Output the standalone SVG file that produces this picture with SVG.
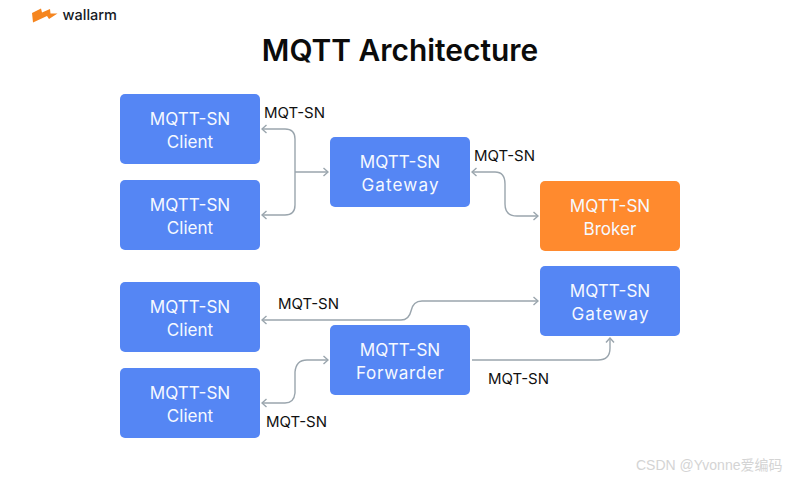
<svg xmlns="http://www.w3.org/2000/svg" width="800" height="480" viewBox="0 0 800 480">
<style>
text{font-family:"Inter","Liberation Sans",sans-serif}
.b{fill:#5586f4}
.o{fill:#ff8a2e}
.n{fill:#f6f9ff;font-size:17.100px;text-anchor:middle}
.l{fill:#111;font-size:15px}
.c{fill:none;stroke:#9aa5ad;stroke-width:1.4}
</style>
<defs>
<marker id="a" viewBox="0 0 10 10" refX="9" refY="5" markerWidth="10" markerHeight="10" markerUnits="userSpaceOnUse" orient="auto-start-reverse"><path d="M4.500 1 9 5 4.500 9" fill="none" stroke="#9aa5ad" stroke-width="1.4"/></marker>
</defs>
<rect width="800" height="480" fill="#fff"/>
<g id="logo">
<path d="M32 13 41 8.500 42 12.500 50 9 50.500 13.500 57.500 13.500 49 19 47 16 33 22.500Z" fill="#f5851f"/>
<text x="62.500" y="20" font-size="14.500" font-weight="500" fill="#15191f">wallarm</text>
</g>
<text id="title" x="400" y="61" font-size="29.900" font-weight="600" text-anchor="middle" fill="#0b0b0b">MQTT Architecture</text>
<g id="connectors">
<path class="c" marker-start="url(#a)" marker-end="url(#a)" d="M262 129H285Q295 129 295 139V205Q295 215 285 215H262"/>
<path class="c" marker-end="url(#a)" d="M295 172H328"/>
<path class="c" marker-start="url(#a)" marker-end="url(#a)" d="M472 172H495Q505 172 505 184V204Q505 216 517 216H538"/>
<path class="c" marker-start="url(#a)" marker-end="url(#a)" d="M262 320H401Q409 320 411 311Q413 301 422 301H538"/>
<path class="c" marker-start="url(#a)" marker-end="url(#a)" d="M262 403H285Q294 403 295 393V372Q296 360 307 360H328"/>
<path class="c" marker-end="url(#a)" d="M472 360H598Q610 360 610 348V338"/>
</g>
<g id="client1"><rect class="b" x="120" y="94" width="140" height="70" rx="5"/><text class="n" x="190" y="125">MQTT-SN</text><text class="n" x="190" y="148">Client</text></g>
<g id="client2"><rect class="b" x="120" y="180" width="140" height="70" rx="5"/><text class="n" x="190" y="211">MQTT-SN</text><text class="n" x="190" y="234">Client</text></g>
<g id="gateway1"><rect class="b" x="330" y="137" width="140" height="70" rx="5"/><text class="n" x="400" y="168">MQTT-SN</text><text class="n" x="400" y="191" textLength="77">Gateway</text></g>
<g id="broker"><rect class="o" x="540" y="181" width="140" height="70" rx="5"/><text class="n" x="610" y="212">MQTT-SN</text><text class="n" x="610" y="235">Broker</text></g>
<g id="gateway2"><rect class="b" x="540" y="266" width="140" height="70" rx="5"/><text class="n" x="610" y="297">MQTT-SN</text><text class="n" x="610" y="320" textLength="77">Gateway</text></g>
<g id="client3"><rect class="b" x="120" y="282" width="140" height="70" rx="5"/><text class="n" x="190" y="313">MQTT-SN</text><text class="n" x="190" y="336">Client</text></g>
<g id="forwarder"><rect class="b" x="330" y="325" width="140" height="70" rx="5"/><text class="n" x="400" y="356">MQTT-SN</text><text class="n" x="400" y="379" textLength="88">Forwarder</text></g>
<g id="client4"><rect class="b" x="120" y="368" width="140" height="70" rx="5"/><text class="n" x="190" y="399">MQTT-SN</text><text class="n" x="190" y="422">Client</text></g>
<g id="labels">
<text class="l" x="264" y="118">MQT-SN</text>
<text class="l" x="474" y="161">MQT-SN</text>
<text class="l" x="278" y="309">MQT-SN</text>
<text class="l" x="488" y="384">MQT-SN</text>
<text class="l" x="266" y="427">MQT-SN</text>
</g>
<text id="watermark" x="636" y="470" font-size="14" fill="#d4d4d4" style="font-family:'Liberation Sans','Noto Sans CJK SC',sans-serif">CSDN @Yvonne爱编码</text>
</svg>
